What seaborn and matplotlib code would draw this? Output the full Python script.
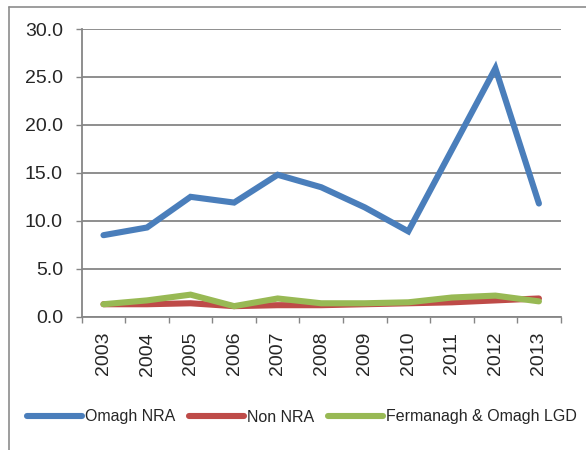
import pandas as pd
import matplotlib
matplotlib.use("Agg")
import matplotlib.pyplot as plt
from matplotlib.lines import Line2D
from matplotlib.ticker import FixedLocator
import seaborn as sns

# values
years = ["2003", "2004", "2005", "2006", "2007", "2008",
         "2009", "2010", "2011", "2012", "2013"]
omagh_nra = [8.5, 9.3, 12.5, 11.9, 14.8, 13.5, 11.4, 8.9, 17.4, 25.9, 11.8]
non_nra = [1.3, 1.3, 1.4, 1.1, 1.2, 1.2, 1.3, 1.4, 1.5, 1.7, 1.9]
fermanagh_omagh = [1.3, 1.7, 2.3, 1.1, 1.9, 1.4, 1.4, 1.5, 2.0, 2.2, 1.6]
series_names = ["Omagh NRA", "Non NRA", "Fermanagh & Omagh LGD"]
colours = ["#4A7EBB", "#BE4B48", "#98B954"]
y_ticks = [0, 5, 10, 15, 20, 25, 30]

df = pd.DataFrame({
    "year": years * 3,
    "value": omagh_nra + non_nra + fermanagh_omagh,
    "series": [series_names[0]] * len(years) + [series_names[1]] * len(years)
              + [series_names[2]] * len(years),
})

sns.set_style("white")
plt.rcParams["font.family"] = ["Liberation Sans", "DejaVu Sans"]

fig = plt.figure(figsize=(5.86, 4.5), dpi=100)
ax = fig.add_axes([81.7 / 586, 1 - 316.7 / 450, (560.7 - 81.7) / 586, (316.7 - 29) / 450])

sns.lineplot(data=df, x="year", y="value", hue="series", hue_order=series_names,
             palette=colours, linewidth=4.4, sort=False, ax=ax)
for line in ax.get_lines():
    line.set_solid_joinstyle("miter")
    line.set_solid_capstyle("round")

# axes and grid
ax.set_xlim(-0.5, len(years) - 0.5)
ax.set_ylim(0, 30)
ax.set_yticks(y_ticks)
ax.set_yticklabels([f"{v:.1f}" for v in y_ticks])
ax.yaxis.grid(True, color="#868686", linewidth=1.3)
ax.set_axisbelow(True)
ax.set_xlabel("")
ax.set_ylabel("")
for side in ["top", "right"]:
    ax.spines[side].set_visible(False)
for side in ["left", "bottom"]:
    ax.spines[side].set_color("#868686")
    ax.spines[side].set_linewidth(1.3)

ax.tick_params(axis="y", length=4.5, width=1, color="#868686",
               labelsize=14, pad=9, left=True)
ax.tick_params(axis="x", which="major", length=0, labelsize=14,
               pad=11, labelrotation=90)
ax.xaxis.set_minor_locator(FixedLocator([i - 0.5 for i in range(len(years) + 1)]))
ax.tick_params(axis="x", which="minor", length=4.5, width=1,
               color="#868686", bottom=True)

# legend below the plot
ax.legend_.remove()
handles = [Line2D([0], [0], color=c, linewidth=4.4, solid_capstyle="round")
           for c in colours]
fig.legend(handles, series_names, loc="center", bbox_to_anchor=(302 / 586, 1 - 417 / 450),
           ncol=3, frameon=False, fontsize=11.5, handlelength=3.4,
           handletextpad=0.2, columnspacing=0.9)

# chart frame (partly cut off like the source)
fig.add_artist(Line2D([8.5 / 586, 8.5 / 586], [0, 1 - 7 / 450],
                      transform=fig.transFigure, color="#8c8c8c", linewidth=1.2))
fig.add_artist(Line2D([8.5 / 586, 1], [1 - 7 / 450, 1 - 7 / 450],
                      transform=fig.transFigure, color="#8c8c8c", linewidth=1.2))

fig.savefig("out.png", dpi=100)
